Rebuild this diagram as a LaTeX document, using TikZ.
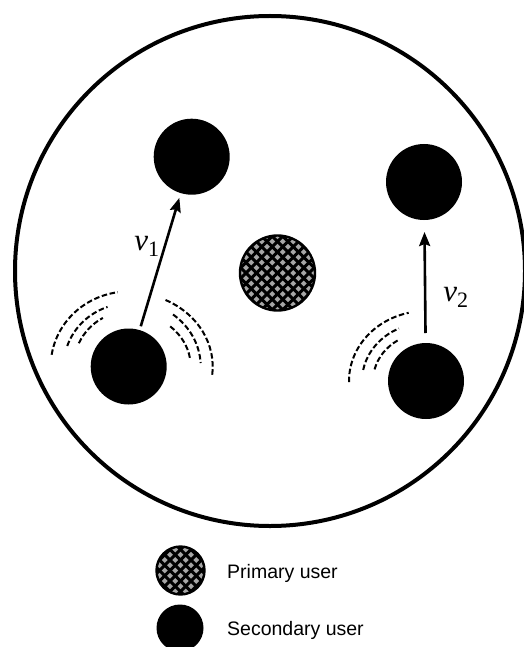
\documentclass[tikz,border=0pt]{standalone}
\usepackage{fontspec}
\setmainfont{Liberation Sans}
\newfontfamily\serifit{Liberation Serif}
\usetikzlibrary{arrows.meta}
\begin{document}
\begin{tikzpicture}[x=1pt,y=1pt,
  user/.style={circle,fill=black,inner sep=0pt,outer sep=0pt,minimum size=76pt},
  primary/.style={circle,draw=black,line width=2.4pt,fill=black!35,inner sep=0pt,outer sep=0pt,minimum size=#1,
    path picture={
      \begin{scope}[shift={(path picture bounding box.center)}]
        \foreach \k in {-10,...,10}{
          \draw[line width=3pt] (\k*10.5-60,-60) -- ++(120,120);
          \draw[line width=3pt] (\k*10.5+60,-60) -- ++(-120,120);}
      \end{scope}}},
  wave/.style={dash pattern=on 5.5pt off 2.6pt, line width=2pt},
  motion/.style={line width=2.6pt,-{Stealth[length=14pt,width=11pt,inset=2pt]}},
  lbl/.style={inner sep=0pt,font=\serifit\itshape\fontsize{31}{31}\selectfont},
  legend/.style={anchor=base west,inner sep=0pt,font=\fontsize{19.5}{22}\selectfont}
]
\useasboundingbox (0,0) rectangle (524,-647);

% coverage area
\node[circle,draw=black,line width=4pt,minimum size=510pt,inner sep=0pt] (cell) at (270,-271) {};

% secondary users
\node[user] (tl) at (191.7,-156.7) {};
\node[user] (tr) at (424,-182) {};
\node[user] (sl) at (128.7,-366.5) {};
\node[user] (sr) at (426,-381) {};

% primary user
\node[primary=75pt] (pu) at (277.5,-273) {};

% movements
\draw[motion,shorten <=4pt,shorten >=5pt] (sl) -- (tl);
\draw[motion,shorten <=10pt,shorten >=12pt] (sr) -- (tr);
\node[lbl] (v1) at (147,-246) {v\textsubscript{\upshape\fontsize{22}{22}\selectfont 1}};
\node[lbl] (v2) at (456,-297) {v\textsubscript{\upshape\fontsize{22}{22}\selectfont 2}};

% transmissions of the lower left user
\draw[wave] ([shift={(171:78pt and 75pt)}]sl.center) arc[start angle=171,end angle=98,x radius=78pt,y radius=75pt];
\draw[wave] ([shift={(161:65pt and 63pt)}]sl.center) arc[start angle=161,end angle=109,x radius=65pt,y radius=63pt];
\draw[wave] ([shift={(155:55pt and 55pt)}]sl.center) arc[start angle=155,end angle=118,x radius=55pt,y radius=55pt];
\draw[wave] ([shift={(64:84pt and 74pt)}]sl.center) arc[start angle=64,end angle=-8,x radius=84pt,y radius=74pt];
\draw[wave] ([shift={(52:72pt and 66pt)}]sl.center) arc[start angle=52,end angle=3,x radius=72pt,y radius=66pt];
\draw[wave] ([shift={(48:62pt and 54pt)}]sl.center) arc[start angle=48,end angle=9,x radius=62pt,y radius=54pt];

% transmissions of the lower right user
\draw[wave] ([shift={(181:77pt and 70pt)}]sr.center) arc[start angle=181,end angle=103,x radius=77pt,y radius=70pt];
\draw[wave] ([shift={(169:64pt and 58pt)}]sr.center) arc[start angle=169,end angle=115,x radius=64pt,y radius=58pt];
\draw[wave] ([shift={(166:53pt and 48pt)}]sr.center) arc[start angle=166,end angle=122,x radius=53pt,y radius=48pt];

% legend
\node[primary=48pt] (kp) at (180.5,-570.5) {};
\node[user,minimum size=47pt] (ks) at (180,-628) {};
\node[legend] (kpt) at (227,-578.5) {Primary user};
\node[legend] (kst) at (227,-635.5) {Secondary user};
\end{tikzpicture}
\end{document}
